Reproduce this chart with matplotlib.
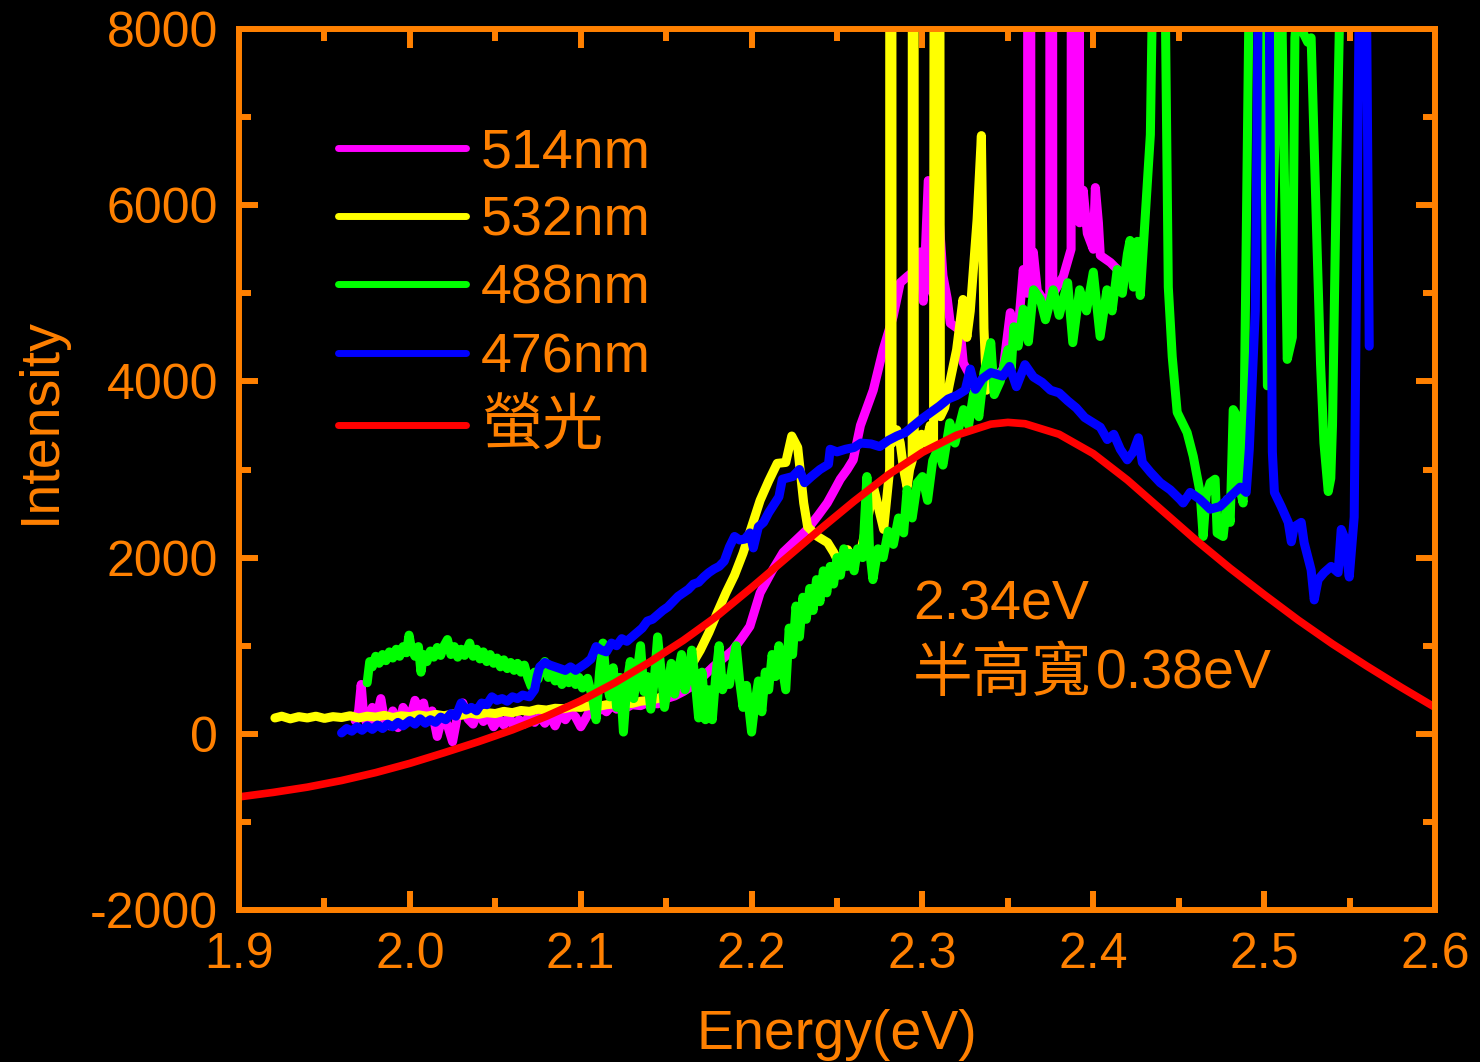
import numpy as np
import matplotlib
matplotlib.use("Agg")
import matplotlib.pyplot as plt
from matplotlib.ticker import MultipleLocator

plt.rcParams['font.family'] = ['Liberation Sans', 'Noto Sans CJK TC', 'DejaVu Sans']
plt.rcParams['axes.unicode_minus'] = False

ORANGE = '#FF8000'

# ---- data (energy in eV, intensity in counts) ----
e514 = [1.9680, 1.9700, 1.9715, 1.9730, 1.9750, 1.9780, 1.9800, 1.9830, 1.9850, 1.9880,
        1.9900, 1.9930, 1.9960, 2.0000, 2.0030, 2.0060, 2.0080, 2.0100, 2.0130, 2.0160,
        2.0190, 2.0220, 2.0250, 2.0280, 2.0310, 2.0340, 2.0370, 2.0400, 2.0430, 2.0460,
        2.0490, 2.0520, 2.0550, 2.0580, 2.0610, 2.0640, 2.0670, 2.0700, 2.0730, 2.0760,
        2.0790, 2.0820, 2.0850, 2.0880, 2.0910, 2.0940, 2.0970, 2.1000, 2.1030, 2.1060,
        2.1090, 2.1120, 2.1150, 2.1180, 2.1210, 2.1240, 2.1270, 2.1300, 2.1350, 2.1400,
        2.1450, 2.1500, 2.1550, 2.1600, 2.1650, 2.1700, 2.1775, 2.1830, 2.1890, 2.1940,
        2.1990, 2.2050, 2.2120, 2.2185, 2.2250, 2.2326, 2.2390, 2.2443, 2.2480, 2.2519,
        2.2560, 2.2595, 2.2637, 2.2712, 2.2770, 2.2829, 2.2870, 2.2911, 2.2950, 2.2987,
        2.3005, 2.3034, 2.3060, 2.3087, 2.3120, 2.3145, 2.3163, 2.3221, 2.3239, 2.3280,
        2.3321, 2.3370, 2.3415, 2.3473, 2.3514, 2.3555, 2.3590, 2.3615, 2.3625, 2.3635,
        2.3649, 2.3672, 2.3731, 2.3745, 2.3754, 2.3763, 2.3824, 2.3870, 2.3895, 2.3920,
        2.3941, 2.3965, 2.4000, 2.4012, 2.4030, 2.4041, 2.4100, 2.4141]
i514 = [150, 260, 560, 200, 110, 300, 140, 400, 170, 90,
        260, 70, 300, 170, 380, 240, 350, 140, 260, -30,
        200, 100, -90, 220, 350, 170, 110, 260, 140, 200,
        80, 170, 100, 200, 70, 160, 110, 220, 130, 200,
        120, 210, 90, 230, 160, 250, 190, 80, 180, 290,
        230, 300, 250, 320, 280, 340, 300, 330, 320, 360,
        340, 400, 430, 480, 540, 620, 760, 850, 950, 1080,
        1220, 1600, 1850, 2060, 2180, 2320, 2480, 2620, 2750, 2890,
        3000, 3110, 3500, 3900, 4360, 4740, 5120, 5190, 5250, 5470,
        4910, 6280, 5000, 6150, 5200, 4940, 4660, 4580, 4210, 4060,
        3850, 3950, 4010, 4140, 4780, 4460, 5270, 5000, 40000, 5000,
        5470, 5030, 4860, 4900, 40000, 4990, 5190, 5500, 80000, 5800,
        6170, 5680, 5500, 6200, 5800, 5430, 5350, 5270]

e532 = [1.921, 1.925, 1.930, 1.935, 1.940, 1.945, 1.950, 1.955, 1.960, 1.965,
        1.970, 1.975, 1.980, 1.985, 1.990, 1.995, 2.000, 2.005, 2.010, 2.015,
        2.020, 2.025, 2.030, 2.035, 2.040, 2.045, 2.050, 2.055, 2.060, 2.065,
        2.070, 2.075, 2.080, 2.085, 2.090, 2.095, 2.100, 2.105, 2.110, 2.115,
        2.120, 2.125, 2.130, 2.135, 2.140, 2.145, 2.150, 2.155, 2.160, 2.170,
        2.175, 2.180, 2.185, 2.190, 2.195, 2.200, 2.205, 2.210, 2.215, 2.220,
        2.2235, 2.2270, 2.2305, 2.2328, 2.2386, 2.2445, 2.2480, 2.2521, 2.2562, 2.2597,
        2.2638, 2.2679, 2.2714, 2.2773, 2.2808, 2.2815, 2.2822, 2.2850, 2.2870, 2.2890,
        2.2910, 2.2925, 2.2940, 2.2946, 2.2952, 2.2975, 2.2995, 2.3020, 2.3045, 2.3065,
        2.3085, 2.3105, 2.3130, 2.3160, 2.3200, 2.3237, 2.3260, 2.3280, 2.3320, 2.3345,
        2.3360, 2.3375]
i532 = [180, 200, 170, 195, 180, 200, 175, 195, 185, 205,
        180, 200, 190, 210, 185, 205, 195, 215, 200, 220,
        205, 225, 210, 235, 220, 240, 230, 255, 240, 265,
        255, 280, 270, 290, 285, 305, 300, 320, 310, 330,
        340, 350, 345, 370, 380, 400, 450, 520, 620, 950,
        1150, 1380, 1600, 1800, 2050, 2350, 2650, 2870, 3070, 3080,
        3380, 3250, 2620, 2350, 2240, 2170, 2060, 1900, 2090, 1940,
        2060, 2430, 2800, 2320, 3000, 60000, 3300, 3450, 3300, 3000,
        2800, 3000, 3100, 60000, 3300, 3200, 3400, 3300, 3500, 3300,
        40000, 3600, 3700, 3990, 4360, 4930, 4500, 4800, 5840, 6790,
        4600, 3900]

e488 = [1.9750, 1.9765, 1.9780, 1.9800, 1.9820, 1.9840, 1.9860, 1.9880, 1.9900, 1.9920,
        1.9940, 1.9960, 1.9980, 1.9995, 2.0010, 2.0030, 2.0050, 2.0065, 2.0080, 2.0100,
        2.0120, 2.0140, 2.0160, 2.0180, 2.0200, 2.0220, 2.0240, 2.0260, 2.0280, 2.0300,
        2.0320, 2.0350, 2.0370, 2.0390, 2.0410, 2.0430, 2.0450, 2.0470, 2.0490, 2.0510,
        2.0530, 2.0550, 2.0570, 2.0590, 2.0610, 2.0630, 2.0650, 2.0670, 2.0690, 2.0710,
        2.0730, 2.0750, 2.0770, 2.0790, 2.0810, 2.0830, 2.0850, 2.0870, 2.0890, 2.0910,
        2.0930, 2.0950, 2.0970, 2.0990, 2.1010, 2.1040, 2.1070, 2.1090, 2.1110, 2.1130,
        2.1150, 2.1170, 2.1190, 2.1210, 2.1230, 2.1250, 2.1270, 2.1290, 2.1310, 2.1330,
        2.1350, 2.1370, 2.1390, 2.1410, 2.1430, 2.1450, 2.1470, 2.1490, 2.1510, 2.1530,
        2.1550, 2.1570, 2.1590, 2.1610, 2.1630, 2.1650, 2.1670, 2.1690, 2.1710, 2.1730,
        2.1750, 2.1770, 2.1790, 2.1810, 2.1830, 2.1850, 2.1870, 2.1890, 2.1910, 2.1930,
        2.1950, 2.1970, 2.2000, 2.2020, 2.2040, 2.2060, 2.2080, 2.2100, 2.2120, 2.2140,
        2.2160, 2.2180, 2.2200, 2.2220, 2.2240, 2.2260, 2.2280, 2.2300, 2.2320, 2.2340,
        2.2360, 2.2380, 2.2400, 2.2420, 2.2440, 2.2460, 2.2480, 2.2500, 2.2520, 2.2540,
        2.2560, 2.2580, 2.2600, 2.2620, 2.2650, 2.2675, 2.2690, 2.2710, 2.2740, 2.2770,
        2.2800, 2.2830, 2.2860, 2.2890, 2.2910, 2.2940, 2.2970, 2.3000, 2.3030, 2.3060,
        2.3090, 2.3120, 2.3160, 2.3190, 2.3240, 2.3270, 2.3300, 2.3330, 2.3360, 2.3380,
        2.3400, 2.3420, 2.3455, 2.3480, 2.3500, 2.3520, 2.3535, 2.3560, 2.3590, 2.3620,
        2.3650, 2.3690, 2.3720, 2.3765, 2.3800, 2.3850, 2.3880, 2.3920, 2.3960, 2.4000,
        2.4040, 2.4080, 2.4110, 2.4140, 2.4170, 2.4200, 2.4215, 2.4235, 2.4258, 2.4275,
        2.4316, 2.4334, 2.4390, 2.4439, 2.4462, 2.4491, 2.4549, 2.4585, 2.4625, 2.4643,
        2.4660, 2.4684, 2.4713, 2.4725, 2.4760, 2.4783, 2.4801, 2.4819, 2.4842, 2.4860,
        2.4877, 2.4958, 2.5019, 2.5082, 2.5094, 2.5106, 2.5135, 2.5165, 2.5180, 2.5200,
        2.5230, 2.5255, 2.5275, 2.5310, 2.5330, 2.5350, 2.5375, 2.5390, 2.5400, 2.5420,
        2.5445, 2.5460]
i488 = [580, 820, 760, 880, 800, 900, 830, 930, 860, 960,
        880, 990, 920, 1120, 960, 880, 990, 700, 900, 820,
        940, 870, 980, 890, 1000, 1070, 900, 990, 870, 960,
        890, 1030, 880, 960, 850, 930, 820, 900, 800, 860,
        760, 840, 740, 810, 720, 800, 700, 780, 640, 540,
        700, 620, 760, 820, 640, 720, 600, 690, 560, 660,
        580, 680, 560, 640, 520, 630, 400, 160, 700, 1030,
        600, 420, 750, 300, 640, 20, 560, 820, 400, 700,
        1000, 480, 650, 280, 600, 1100, 720, 300, 550, 800,
        450, 700, 900, 500, 650, 950, 600, 180, 700, 160,
        500, 160, 650, 1000, 500, 620, 560, 800, 1000, 600,
        300, 550, 20, 350, 600, 250, 700, 500, 900, 650,
        1000, 750, 500, 1200, 900, 1450, 1100, 1550, 1300, 1650,
        1400, 1750, 1500, 1850, 1600, 1900, 1700, 2000, 1800, 2100,
        1900, 2050, 1850, 2100, 2000, 2920, 2100, 1750, 2100, 2000,
        2300, 2150, 2450, 2280, 2770, 2450, 2850, 2920, 2650, 3100,
        3230, 3050, 3530, 3300, 3680, 3500, 3870, 3600, 4100, 4250,
        4440, 3850, 4000, 4200, 4360, 4150, 4620, 4400, 4820, 4450,
        5040, 4930, 4700, 5040, 4750, 5120, 4440, 5040, 4800, 5240,
        4510, 5040, 4800, 5270, 5000, 5450, 5600, 5070, 5590, 4975,
        6240, 6800, 14000, 5070, 4280, 3650, 3420, 3150, 2740, 2240,
        2700, 2850, 2890, 2280, 2240, 2660, 2400, 3680, 3600, 2770,
        2620, 16000, 3950, 7900, 11000, 7900, 4250, 4500, 7900, 8400,
        7950, 7850, 7900, 5500, 4200, 3300, 2750, 2900, 3500, 6000,
        8500, 11000]

e476 = [1.9600, 1.9630, 1.9660, 1.9690, 1.9720, 1.9750, 1.9780, 1.9810, 1.9840, 1.9870,
        1.9900, 1.9930, 1.9960, 2.0000, 2.0030, 2.0060, 2.0090, 2.0120, 2.0150, 2.0180,
        2.0210, 2.0240, 2.0270, 2.0300, 2.0330, 2.0360, 2.0390, 2.0420, 2.0450, 2.0480,
        2.0510, 2.0540, 2.0570, 2.0600, 2.0630, 2.0660, 2.0700, 2.0730, 2.0745, 2.0760,
        2.0790, 2.0820, 2.0850, 2.0880, 2.0910, 2.0940, 2.0970, 2.1000, 2.1030, 2.1060,
        2.1090, 2.1120, 2.1150, 2.1180, 2.1210, 2.1240, 2.1270, 2.1300, 2.1330, 2.1360,
        2.1390, 2.1420, 2.1450, 2.1480, 2.1510, 2.1540, 2.1570, 2.1600, 2.1630, 2.1660,
        2.1690, 2.1720, 2.1750, 2.1780, 2.1810, 2.1840, 2.1870, 2.1900, 2.1930, 2.1960,
        2.1990, 2.2010, 2.2040, 2.2070, 2.2100, 2.2130, 2.2160, 2.2180, 2.2200, 2.2240,
        2.2280, 2.2310, 2.2350, 2.2400, 2.2450, 2.2460, 2.2500, 2.2550, 2.2600, 2.2640,
        2.2700, 2.2750, 2.2800, 2.2850, 2.2900, 2.2950, 2.3000, 2.3050, 2.3100, 2.3150,
        2.3200, 2.3250, 2.3280, 2.3310, 2.3350, 2.3400, 2.3470, 2.3510, 2.3550, 2.3600,
        2.3650, 2.3700, 2.3750, 2.3800, 2.3850, 2.3900, 2.3950, 2.4000, 2.4041, 2.4082,
        2.4120, 2.4158, 2.4199, 2.4234, 2.4264, 2.4287, 2.4334, 2.4392, 2.4450, 2.4508,
        2.4526, 2.4567, 2.4625, 2.4684, 2.4742, 2.4801, 2.4860, 2.4895, 2.4913, 2.4930,
        2.4948, 2.5002, 2.5048, 2.5060, 2.5100, 2.5141, 2.5159, 2.5176, 2.5217, 2.5234,
        2.5275, 2.5293, 2.5316, 2.5351, 2.5392, 2.5433, 2.5451, 2.5468, 2.5498, 2.5527,
        2.5580, 2.5615]
i476 = [10, 60, 30, 80, 40, 90, 50, 100, 60, 110,
        80, 130, 90, 150, 110, 170, 120, 160, 130, 190,
        160, 230, 200, 350, 270, 300, 260, 350, 330, 420,
        380, 400, 370, 420, 400, 440, 420, 500, 650, 760,
        810, 780, 760, 740, 720, 760, 720, 760, 800, 850,
        990, 950, 930, 1030, 1000, 1080, 1050, 1100, 1150, 1200,
        1280, 1300, 1350, 1400, 1440, 1500, 1560, 1600, 1640, 1700,
        1720, 1780, 1830, 1870, 1900, 1960, 2120, 2240, 2200, 2210,
        2280, 2110, 2350, 2400, 2510, 2600, 2690, 2890, 2900, 2920,
        3000, 2850, 2920, 3000, 3060, 3230, 3200, 3230, 3250, 3300,
        3290, 3260, 3330, 3380, 3420, 3500, 3580, 3650, 3720, 3800,
        3840, 3900, 4140, 3910, 4030, 4100, 4060, 4170, 3940, 4190,
        4050, 3990, 3900, 3870, 3780, 3700, 3590, 3530, 3480, 3340,
        3400, 3230, 3110, 3200, 3360, 3080, 2970, 2850, 2770, 2660,
        2620, 2740, 2660, 2550, 2580, 2690, 2800, 2740, 3230, 3990,
        4800, 16000, 3200, 2740, 2580, 2400, 2180, 2350, 2400, 2170,
        1860, 1520, 1750, 1830, 1900, 1830, 2320, 2240, 1780, 2460,
        13000, 4400]

e_fl = [1.90, 1.92, 1.94, 1.96, 1.98, 2.00, 2.02, 2.04, 2.06, 2.08,
        2.10, 2.12, 2.14, 2.16, 2.18, 2.20, 2.22, 2.24, 2.26, 2.28,
        2.30, 2.32, 2.34, 2.35, 2.36, 2.38, 2.40, 2.42, 2.44, 2.46,
        2.48, 2.50, 2.52, 2.54, 2.56, 2.58, 2.60]
i_fl = [-716, -665, -605, -530, -440, -335, -215, -90, 45, 200,
        375, 580, 810, 1060, 1340, 1660, 1990, 2320, 2640, 2940,
        3195, 3390, 3515, 3535, 3520, 3400, 3180, 2880, 2540, 2200,
        1880, 1580, 1290, 1020, 770, 530, 300]

labels = ['514nm', '532nm', '488nm', '476nm', '螢光']
colors = ['#FF00FF', '#FFFF00', '#00FF00', '#0000FF', '#FF0000']

fig = plt.figure(figsize=(14.8, 10.62), dpi=100, facecolor='black')
ax = fig.add_axes([0.1615, 0.1431, 0.8081, 0.8296])
ax.set_facecolor('black')

series = [(e514, i514), (e532, i532), (e488, i488), (e476, i476)]
for (ex, iy), lab, col in zip(series, labels[:4], colors[:4]):
    ax.plot(ex, iy, color=col, lw=6.5, label=lab,
            solid_capstyle='round', solid_joinstyle='round')
ax.plot(e_fl, i_fl, color=colors[4], lw=5.5, label=labels[4],
        solid_capstyle='round', solid_joinstyle='round')

ax.set_xlim(1.9, 2.6)
ax.set_ylim(-2000, 8000)
ax.xaxis.set_major_locator(MultipleLocator(0.1))
ax.xaxis.set_minor_locator(MultipleLocator(0.05))
ax.yaxis.set_major_locator(MultipleLocator(2000))
ax.yaxis.set_minor_locator(MultipleLocator(1000))
ax.xaxis.set_major_formatter(matplotlib.ticker.FormatStrFormatter('%.1f'))

for sp in ax.spines.values():
    sp.set_color(ORANGE)
    sp.set_linewidth(4.3)
ax.tick_params(which='both', direction='in', top=True, right=True,
               color=ORANGE, width=4.3, labelcolor=ORANGE, labelsize=36)
ax.tick_params(which='major', length=14)
ax.tick_params(which='minor', length=8.5)
ax.tick_params(axis='x', pad=16)
ax.tick_params(axis='y', pad=15)

ax.set_xlabel('Energy(eV)', fontsize=40, color=ORANGE)
ax.set_ylabel('Intensity', fontsize=40, color=ORANGE)
ax.xaxis.set_label_coords(0.5, -0.112)
ax.yaxis.set_label_coords(-0.144, 0.555)

leg = ax.legend(loc='upper left', bbox_to_anchor=(0.083, 0.888), frameon=False,
                fontsize=40, handlelength=2.3, handletextpad=0.27,
                labelspacing=0.29, borderpad=0, borderaxespad=0)
for t in leg.get_texts():
    t.set_color(ORANGE)
leg.get_texts()[4].set_fontsize(44)
for ln in leg.get_lines():
    ln.set_linewidth(5)

ax.text(2.2946, 1454, '2.34eV', fontsize=40, color=ORANGE, ha='left', va='center')
ax.text(2.2946, 670, '半高寬', fontsize=43, color=ORANGE, ha='left', va='center')
ax.text(2.4018, 670, '0.38eV', fontsize=40, color=ORANGE, ha='left', va='center')

fig.savefig('out.png', dpi=100, facecolor='black')
